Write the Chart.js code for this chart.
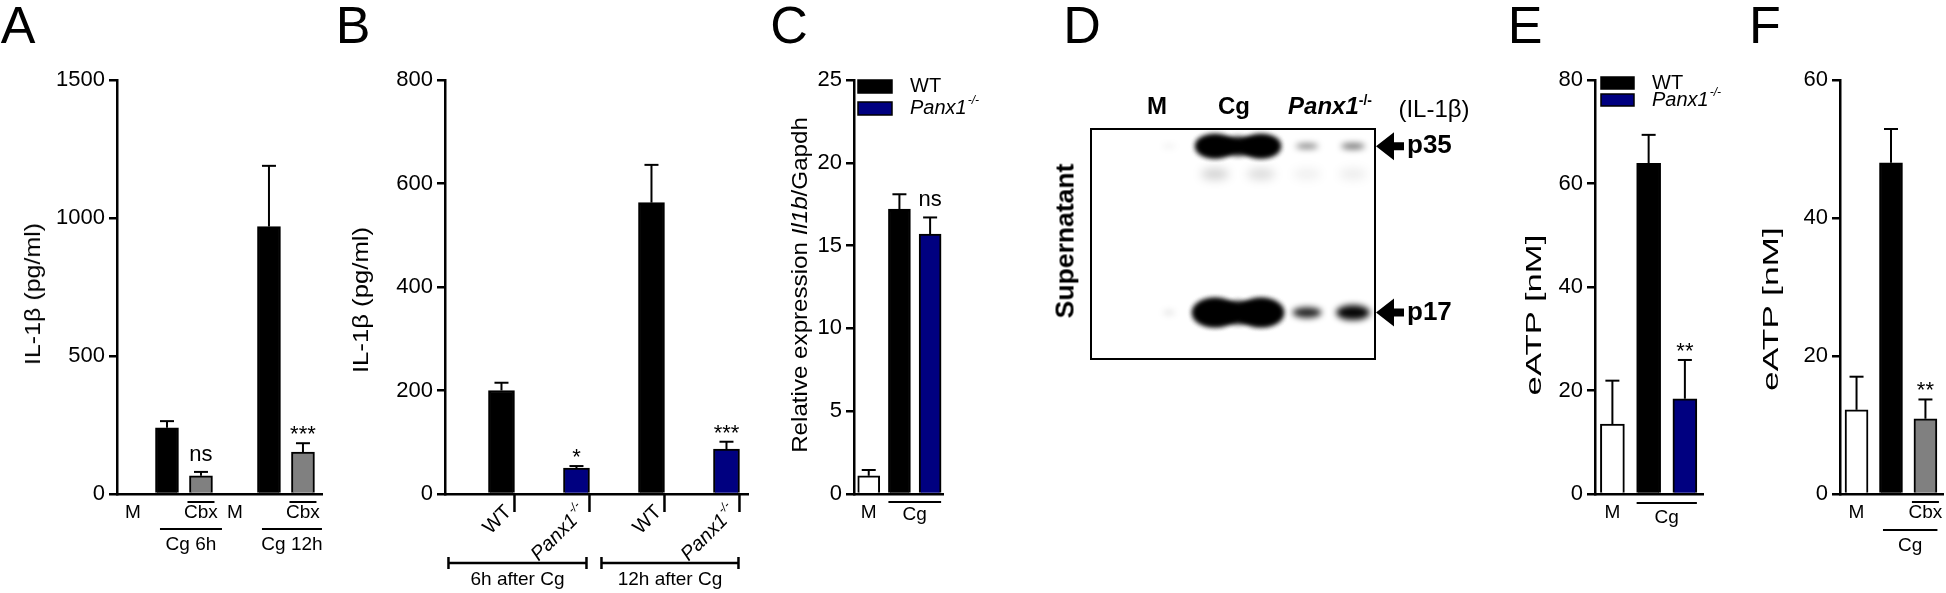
<!DOCTYPE html>
<html>
<head>
<meta charset="utf-8">
<script src="https://cdn.jsdelivr.net/npm/chart.js@4.4.0/dist/chart.umd.min.js"></script>
<style>
  body { margin: 0; background: #fff; width: 1946px; height: 593px; position: relative; overflow: hidden;
         font-family: 'Liberation Sans', Arial, sans-serif; color: #000; }
  canvas { position: absolute; top: 0; }
  .t { position: absolute; white-space: nowrap; line-height: 1; transform: translate(-50%, -50%); }
  .letter { font-size: 52px; }
  .vt { position: absolute; white-space: nowrap; line-height: 1; font-size: 22px; }
  .hd { font-size: 24px; font-weight: bold; }
  .sup { font-size: 14px; position: relative; top: -9px; }
</style>
</head>
<body>
<canvas id="cA" width="340" height="593" style="left:0px"></canvas>
<canvas id="cB" width="420" height="593" style="left:340px"></canvas>
<canvas id="cC" width="240" height="593" style="left:770px"></canvas>
<canvas id="cD" width="420" height="593" style="left:1040px"></canvas>
<canvas id="cE" width="245" height="593" style="left:1500px"></canvas>
<canvas id="cF" width="201" height="593" style="left:1745px"></canvas>

<div class="t letter" style="left:18px;top:25px">A</div>
<div class="t letter" style="left:353px;top:25px">B</div>
<div class="t letter" style="left:789px;top:25px">C</div>
<div class="t letter" style="left:1082px;top:25px">D</div>
<div class="t letter" style="left:1525px;top:25px">E</div>
<div class="t letter" style="left:1765px;top:25px">F</div>

<div class="vt" data-len="142" style="left:33px;top:294px">IL-1β (pg/ml)</div>
<div class="vt" data-len="146" style="left:361px;top:300px">IL-1β (pg/ml)</div>
<div class="vt" data-len="336" style="left:800px;top:285px">Relative expression <i>Il1b</i>/Gapdh</div>
<div class="vt" data-len="161" style="left:1534px;top:315px">eATP [nM]</div>
<div class="vt" data-len="164" style="left:1771px;top:309px">eATP [nM]</div>

<div class="t hd" style="left:1157px;top:106px">M</div>
<div class="t hd" style="left:1234px;top:106px">Cg</div>
<div class="t hd" style="left:1330px;top:106px"><i>Panx1</i><span class="sup">-/-</span></div>
<div class="t" style="left:1434px;top:109px;font-size:24px">(IL-1β)</div>
<div class="vt" data-len="155" style="left:1065px;top:241px;font-size:25px;font-weight:bold">Supernatant</div>

<script>
// A: IL-1β release, Cbx treatment
const aLabels = ['M', '', 'Cbx', 'M', '', 'Cbx'];
const aValues = [0, 240, 66, 0, 969, 152];
const aErrors = [0, 24, 14, 0, 220, 32];
const aSig = ['', '', 'ns', '', '', '***'];
const aTicks = [0, 500, 1000, 1500];

// B: IL-1β release, WT vs Panx1-/-
const bLabels = ['WT', 'Panx1', 'WT', 'Panx1'];
const bSup = ['', '-/-', '', '-/-'];
const bValues = [200, 50, 563, 87];
const bErrors = [15, 4, 73, 14];
const bSig = ['', '*', '', '***'];
const bTicks = [0, 200, 400, 600, 800];

// C: Il1b expression
const cLabels = ['M', '', ''];
const cValues = [1.1, 17.2, 15.7];
const cErrors = [0.35, 0.9, 1.0];
const cSig = ['', '', 'ns'];
const cTicks = [0, 5, 10, 15, 20, 25];

// D: western blot, 6 lanes, band intensity 0..1
const dLanes = ['M', 'M', 'Cg', 'Cg', 'Panx1', 'Panx1'];
const dBands = [35, 31, 17]; // kDa
const dBandNames = ['p35', '', 'p17'];
const dP35 = [0, 0.06, 1, 1, 0.45, 0.5];
const dP31 = [0, 0, 0.15, 0.12, 0.05, 0.06];
const dP17 = [0, 0.12, 1, 1, 0.75, 0.85];

// E: eATP, WT vs Panx1-/-
const eLabels = ['M', '', ''];
const eValues = [13.5, 63.9, 18.4];
const eErrors = [8.4, 5.5, 7.5];
const eSig = ['', '', '**'];
const eTicks = [0, 20, 40, 60, 80];

// F: eATP, Cbx
const fLabels = ['M', '', 'Cbx'];
const fValues = [12.2, 48.0, 10.9];
const fErrors = [4.8, 4.9, 2.8];
const fSig = ['', '', '**'];
const fTicks = [0, 20, 40, 60];

const FONT = "'Liberation Sans', Arial, sans-serif";
const BLACK = '#000', NAVY = '#000080', GRAY = '#808080', WHITE = '#fff';

document.querySelectorAll('.vt').forEach(el => {
    const sx = +el.dataset.len / el.offsetWidth;
    el.style.transform = `translate(-50%,-50%) rotate(-90deg) scale(${sx},1)`;
});

function line(ctx, x1, y1, x2, y2) {
    ctx.beginPath();
    ctx.moveTo(x1, y1);
    ctx.lineTo(x2, y2);
    ctx.stroke();
}

function drawSup(ctx, main, sup, size, italic, align, x = 0, y = 0) {
    const st = italic ? 'italic ' : '';
    const small = Math.round(size * 0.62);
    ctx.font = `${st}${size}px ${FONT}`;
    const w1 = ctx.measureText(main).width;
    ctx.font = `${st}${small}px ${FONT}`;
    const w2 = sup ? ctx.measureText(sup).width + 1 : 0;
    const x0 = align === 'right' ? x - w1 - w2 : x;
    ctx.textAlign = 'left';
    ctx.textBaseline = 'middle';
    ctx.font = `${st}${size}px ${FONT}`;
    ctx.fillText(main, x0, y);
    if (sup) {
        ctx.font = `${st}${small}px ${FONT}`;
        ctx.fillText(sup, x0 + w1 + 1, y - size * 0.38);
    }
}

const specs = {};

const decor = {
    id: 'decor',
    afterDatasetsDraw(chart) {
        const p = specs[chart.canvas.id];
        const { ctx, chartArea: area, scales: { x, y } } = chart;
        const base = y.getPixelForValue(0);
        const half = p.bw / 2;
        ctx.save();
        ctx.strokeStyle = BLACK;
        ctx.fillStyle = BLACK;

        // error bars + significance
        p.values.forEach((v, i) => {
            const cx = x.getPixelForValue(i);
            let top = y.getPixelForValue(v);
            if (p.errors[i]) {
                const yt = y.getPixelForValue(v + p.errors[i]);
                ctx.lineWidth = 2;
                line(ctx, cx, top, cx, yt);
                line(ctx, cx - 7, yt, cx + 7, yt);
                top = yt;
            }
            if (p.sig[i]) {
                ctx.font = `22px ${FONT}`;
                ctx.textAlign = 'center';
                ctx.textBaseline = 'alphabetic';
                ctx.fillText(p.sig[i], cx, top - (p.sig[i] === 'ns' ? 11 : 2));
            }
        });

        // labels under the axis
        ctx.font = `19px ${FONT}`;
        ctx.textAlign = 'center';
        ctx.textBaseline = 'middle';
        (p.labels || []).forEach((t, i) => {
            if (t) ctx.fillText(t, x.getPixelForValue(i), base + 19);
        });
        ctx.lineWidth = 2;
        (p.over || []).forEach(i => {
            const cx = x.getPixelForValue(i);
            line(ctx, cx - half - 2, base + 8, cx + half + 2, base + 8);
        });

        // rotated labels and ticks (B)
        if (p.rot) {
            p.rot.forEach((t, i) => {
                const cx = x.getPixelForValue(i);
                ctx.lineWidth = 2.5;
                line(ctx, cx + half, base, cx + half, base + 18);
                ctx.save();
                ctx.translate(cx + 7, base + 15);
                ctx.rotate(-Math.PI / 4);
                drawSup(ctx, t, p.rotSup[i], 20, !!p.rotSup[i], 'right');
                ctx.restore();
            });
        }

        (p.brackets || []).forEach(b => {
            const x1 = x.getPixelForValue(b.from) + b.dl;
            const x2 = x.getPixelForValue(b.to) + b.dr;
            const yy = base + b.y;
            ctx.lineWidth = b.caps ? 2.5 : 2;
            line(ctx, x1, yy, x2, yy);
            if (b.caps) {
                line(ctx, x1, yy - 6, x1, yy + 6);
                line(ctx, x2, yy - 6, x2, yy + 6);
            }
            ctx.font = `19px ${FONT}`;
            ctx.textAlign = 'center';
            ctx.textBaseline = 'middle';
            ctx.fillText(b.text, (x1 + x2) / 2, base + b.ty);
        });

        if (p.legend) {
            const L = p.legend;
            L.items.forEach((it, k) => {
                const yy = area.top + L.ys[k];
                ctx.fillStyle = it.color;
                ctx.fillRect(area.left + L.x, yy, L.w, L.h);
                ctx.lineWidth = 1.5;
                ctx.strokeRect(area.left + L.x, yy, L.w, L.h);
                ctx.fillStyle = BLACK;
                drawSup(ctx, it.text, it.sup, 20, !!it.sup, 'left', area.left + L.tx, yy + L.h / 2);
            });
        }
        ctx.restore();
    }
};

function barPanel(id, p) {
    specs[id] = p;
    return new Chart(document.getElementById(id), {
        type: 'bar',
        data: {
            datasets: [{
                data: p.values.map((v, i) => ({ x: i, y: v })),
                backgroundColor: p.colors,
                borderColor: BLACK,
                borderWidth: 2,
                barThickness: p.bw,
            }]
        },
        options: {
            responsive: false,
            animation: false,
            events: [],
            layout: { padding: { left: 0, right: p.padRight, top: 80, bottom: 99 } },
            plugins: { legend: { display: false }, tooltip: { enabled: false } },
            scales: {
                x: {
                    type: 'linear', offset: false, min: p.xmin, max: p.xmax,
                    grid: { display: false },
                    ticks: { display: false },
                    border: { display: true, color: BLACK, width: 2.5 },
                    afterFit: s => { s.height = 0; },
                },
                y: {
                    type: 'linear', min: 0, max: p.ticks[p.ticks.length - 1],
                    afterBuildTicks: s => { s.ticks = p.ticks.map(v => ({ value: v })); },
                    afterFit: s => { s.width = p.yw; },
                    grid: { drawOnChartArea: false, color: BLACK, lineWidth: 2.5, tickLength: 8 },
                    border: { color: BLACK, width: 2.5 },
                    ticks: {
                        color: BLACK, padding: 4,
                        font: { family: FONT, size: 22 },
                        callback: v => String(v),
                    },
                },
            },
        },
        plugins: [decor],
    });
}

barPanel('cA', {
    values: aValues, errors: aErrors, sig: aSig, labels: aLabels, ticks: aTicks,
    colors: [WHITE, BLACK, GRAY, WHITE, BLACK, GRAY],
    xmin: -0.47, xmax: 5.56, bw: 23, yw: 117, padRight: 18,
    over: [2, 5],
    brackets: [
        { from: 1, to: 2, text: 'Cg 6h', y: 35, ty: 51, dl: -7, dr: 21 },
        { from: 4, to: 5, text: 'Cg 12h', y: 35, ty: 51, dl: -7, dr: 19 },
    ],
});

barPanel('cB', {
    values: bValues, errors: bErrors, sig: bSig, ticks: bTicks,
    rot: bLabels, rotSup: bSup,
    colors: [BLACK, NAVY, BLACK, NAVY],
    xmin: -0.753, xmax: 3.287, bw: 26, yw: 105, padRight: 12,
    brackets: [
        { from: 0, to: 1, text: '6h after Cg', y: 69, ty: 86, dl: -53, dr: 10, caps: true },
        { from: 2, to: 3, text: '12h after Cg', y: 69, ty: 86, dl: -50, dr: 12, caps: true },
    ],
});

barPanel('cC', {
    values: cValues, errors: cErrors, sig: cSig, labels: cLabels, ticks: cTicks,
    colors: [WHITE, BLACK, NAVY],
    xmin: -0.48, xmax: 2.42, bw: 22, yw: 84, padRight: 67,
    brackets: [{ from: 1, to: 2, text: 'Cg', y: 8, ty: 21, dl: -11, dr: 11 }],
    legend: {
        x: 4, w: 34, h: 13, ys: [0, 22], tx: 56,
        items: [{ color: BLACK, text: 'WT' }, { color: NAVY, text: 'Panx1', sup: '-/-' }],
    },
});

barPanel('cE', {
    values: eValues, errors: eErrors, sig: eSig, labels: eLabels, ticks: eTicks,
    colors: [WHITE, BLACK, NAVY],
    xmin: -0.48, xmax: 2.5, bw: 24, yw: 95, padRight: 42,
    brackets: [{ from: 1, to: 2, text: 'Cg', y: 9, ty: 24, dl: -12, dr: 12 }],
    legend: {
        x: 6, w: 33, h: 12, ys: [-3, 14], tx: 57,
        items: [{ color: BLACK, text: 'WT' }, { color: NAVY, text: 'Panx1', sup: '-/-' }],
    },
});

barPanel('cF', {
    values: fValues, errors: fErrors, sig: fSig, labels: fLabels, ticks: fTicks,
    colors: [WHITE, BLACK, GRAY],
    xmin: -0.48, xmax: 2.51, bw: 23, yw: 95, padRight: 3,
    over: [2],
    brackets: [{ from: 1, to: 2, text: 'Cg', y: 36, ty: 52, dl: -8, dr: 12 }],
});

// D: blot drawn through hidden lane / kDa scales
const blot = {
    id: 'blot',
    afterDatasetsDraw(chart) {
        const { ctx, chartArea: a, scales: { x, y } } = chart;
        const rows = [dP35, dP31, dP17];
        const blob = (cx, cy, rx, ry, alpha, blur, passes) => {
            ctx.filter = `blur(${blur}px)`;
            ctx.fillStyle = `rgba(0,0,0,${alpha})`;
            for (let k = 0; k < passes; k++) {
                ctx.beginPath();
                ctx.ellipse(cx, cy, rx, ry, 0, 0, Math.PI * 2);
                ctx.fill();
            }
        };
        ctx.save();
        ctx.beginPath();
        ctx.rect(a.left, a.top, a.right - a.left, a.bottom - a.top);
        ctx.clip();
        dBands.forEach((kda, b) => {
            const cy = y.getPixelForValue(kda);
            const r = rows[b];
            r.forEach((v, i) => {
                if (!v) return;
                const cx = x.getPixelForValue(i);
                let rx, ry;
                if (b === 0) { rx = 6 + 12 * v; ry = 2 + 8 * v * v * v; }
                else if (b === 1) { rx = 14; ry = 6; }
                else { rx = 6 + 15 * v * v; ry = 2 + 10.5 * Math.pow(v, 4); }
                blob(cx, cy, rx, ry, Math.min(1, v * 1.15), b === 1 ? 5 : 3, v > 0.9 ? 3 : 1);
                // strong neighbouring lanes run together
                if (i + 1 < r.length && v > 0.9 && r[i + 1] > 0.9) {
                    const mx = (cx + x.getPixelForValue(i + 1)) / 2;
                    blob(mx, cy, 16, ry * 0.8, 1, 3, 2);
                }
            });
        });
        ctx.restore();

        ctx.save();
        ctx.strokeStyle = BLACK;
        ctx.fillStyle = BLACK;
        ctx.lineWidth = 2;
        ctx.strokeRect(a.left, a.top, a.right - a.left, a.bottom - a.top);
        dBandNames.forEach((name, b) => {
            if (!name) return;
            const cy = y.getPixelForValue(dBands[b]);
            const x0 = a.right + 1;
            ctx.beginPath();
            ctx.moveTo(x0, cy);
            ctx.lineTo(x0 + 18, cy - 14);
            ctx.lineTo(x0 + 18, cy - 4);
            ctx.lineTo(x0 + 28, cy - 4);
            ctx.lineTo(x0 + 28, cy + 4);
            ctx.lineTo(x0 + 18, cy + 4);
            ctx.lineTo(x0 + 18, cy + 14);
            ctx.closePath();
            ctx.fill();
            ctx.font = `bold 26px ${FONT}`;
            ctx.textAlign = 'left';
            ctx.textBaseline = 'middle';
            ctx.fillText(name, x0 + 31, cy);
        });
        ctx.restore();
    }
};

new Chart(document.getElementById('cD'), {
    type: 'scatter',
    data: { labels: dLanes, datasets: [{ data: [], pointRadius: 0 }] },
    options: {
        responsive: false,
        animation: false,
        events: [],
        layout: { padding: { left: 51, right: 85, top: 129, bottom: 234 } },
        plugins: { legend: { display: false }, tooltip: { enabled: false } },
        scales: {
            x: { type: 'linear', min: -0.696, max: 5.478, display: false },
            y: { type: 'logarithmic', min: 13.9, max: 37.7, display: false },
        },
    },
    plugins: [blot],
});
</script>
</body>
</html>
